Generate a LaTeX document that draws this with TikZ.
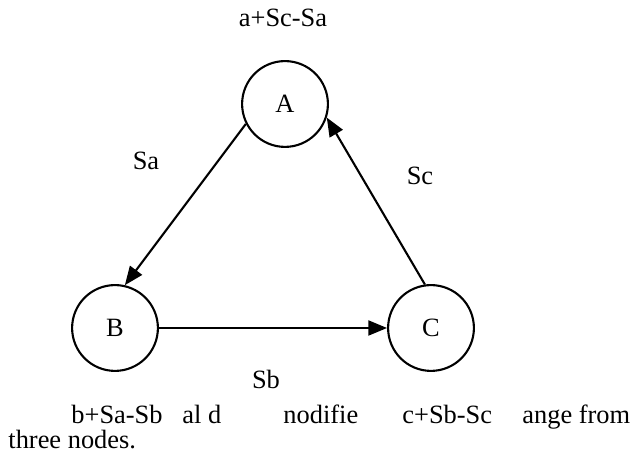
\documentclass[tikz,border=0pt]{standalone}
\usepackage{fontspec}
\setmainfont{Liberation Serif}
\usetikzlibrary{arrows.meta}
\tikzset{
  state/.style={circle,draw,line width=0.95pt,minimum size=39pt,inner sep=0pt},
  flow/.style={line width=0.95pt,-{Triangle[length=8.5pt,width=6.8pt]}},
  txt/.style={anchor=base,inner sep=0pt}
}
\begin{document}
\begin{tikzpicture}[x=0.4545pt,y=0.4545pt,font=\fontsize{12pt}{14pt}\selectfont]
    \useasboundingbox (0,0) rectangle (637,462);
    \node[state] (A) at (285,358) {A}; \node[state] (B) at (115,134) {B};
    \node[state] (C) at (431,134) {C};
    \draw[flow] (A.207)--(B.77); \draw[flow] (B.east)--(C.west);
    \draw[flow] (C.98)--(A.342);
    \node[txt] (la) at (283,435) {a+Sc-Sa}; \node[txt] (sa) at (146,292) {Sa};
    \node[txt] (sc) at (420,277) {Sc}; \node[txt] (sb) at (266,73) {Sb};
    \node[txt,anchor=base west] (t1) at (71,38) {b+Sa-Sb};
    \node[txt,anchor=base west] (t2) at (182,38) {al d};
    \node[txt,anchor=base west] (t3) at (283,38) {nodifie};
    \node[txt,anchor=base west] (t4) at (402,38) {c+Sb-Sc};
    \node[txt,anchor=base west] (t5) at (522,38) {ange from};
    \node[txt,anchor=base west] (t6) at (8,13) {three nodes.};
  \end{tikzpicture}
\end{document}
